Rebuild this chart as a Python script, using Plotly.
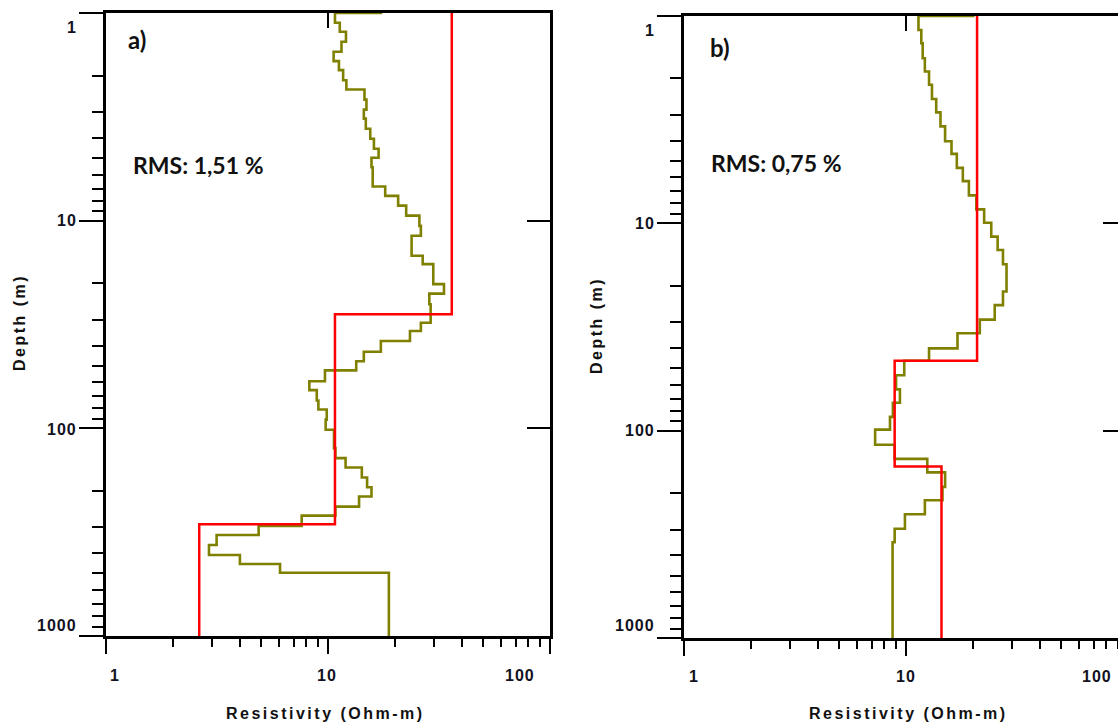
import math
import plotly.graph_objects as go

W, H = 1118, 723

# ---------------- data ----------------
# Panel a) : smooth inversion model (olive) and layered model (red)
rho_a_smooth = [17.3, 10.75, 11.3, 12.05, 11.5, 10.6, 11.2, 11.7, 12.1, 14.6, 14.9, 14.5, 14.8,
                15.5, 16.1, 16.9, 15.7, 15.9, 18.1, 20.7, 22.5, 25.8, 26.2, 23.8, 26.7, 29.8,
                33.3, 28.6, 29.0, 26.2, 23.4, 17.3, 14.5, 13.4, 9.69, 8.24, 8.9, 9.05, 9.87,
                9.76, 10.64, 10.8, 12.0, 14.2, 15.0, 15.7, 13.8, 10.8, 7.61, 4.87, 3.15, 2.91,
                4.01, 6.08, 18.8]
top_a_smooth = [0.9, 1.0, 1.114, 1.231, 1.376, 1.538, 1.705, 1.885, 2.107, 2.337, 2.612, 2.919,
                3.227, 3.606, 4.03, 4.504, 4.98, 5.53, 6.85, 7.6, 8.46, 9.46, 10.6, 11.82, 14.76,
                16.19, 20.22, 22.45, 25.26, 31.0, 34.0, 37.99, 42.8, 47.5, 52.6, 59.3, 65.5,
                73.5, 81.2, 90.8, 101.5, 124.5, 139.2, 154.3, 172.5, 192.1, 213.1, 238.2, 263.3,
                295.1, 326.2, 364.6, 407.6, 450.4, 496.3]
rho_a_layers = [36.1, 10.75, 2.63]
top_a_layers = [1.0, 28.2, 290.0]

# Panel b)
rho_b_smooth = [20.1, 11.38, 11.72, 11.89, 12.16, 12.7, 13.09, 13.68, 14.3, 15.0, 16.03, 16.94,
                18.03, 19.2, 20.74, 22.49, 24.21, 25.87, 27.34, 28.37, 27.34, 25.1, 21.5, 17.06,
                12.7, 9.82, 9.02, 9.39, 8.73, 8.47, 7.26, 8.89, 12.47, 15.0, 14.6, 12.16, 9.89,
                8.89, 8.7]
top_b_smooth = [0.9, 1.0, 1.168, 1.353, 1.598, 1.852, 2.147, 2.515, 2.915, 3.405, 4.021, 4.624,
                5.40, 6.26, 7.33, 8.56, 9.93, 11.59, 13.44, 15.74, 21.31, 24.79, 29.15, 33.9,
                40.1, 46.0, 54.0, 63.2, 73.4, 85.8, 98.9, 117.0, 136.8, 158.9, 186.6, 216.6,
                253.2, 297.4, 345.3]
rho_b_layers = [20.9, 8.89, 14.45]
top_b_layers = [1.0, 46.0, 149.0]

max_depth = 1000.0
rms_labels = ["RMS: 1,51 %", "RMS: 0,75 %"]
panel_labels = ["a)", "b)"]
x_tick_vals = [1, 10, 100]
x_tick_text = ["1", "10", "100"]
y_tick_vals = [1, 10, 100, 1000]
y_tick_text = ["1", "10", "100", "1000"]
x_title = "Resistivity (Ohm-m)"
y_title = "Depth (m)"

OLIVE = "#808000"
RED = "#ff0000"

minor_x = [m * 10 ** e for e in range(0, 2) for m in range(2, 10)]
minor_y = [m * 10 ** e for e in range(0, 3) for m in range(2, 10)]


def steps(rho, tops):
    return list(rho) + [rho[-1]], list(tops) + [max_depth]


fig = go.Figure()

panels = [
    dict(x="x", y="y", xo="x3", yo="y3", smooth=(rho_a_smooth, top_a_smooth),
         layers=(rho_a_layers, top_a_layers)),
    dict(x="x2", y="y2", xo="x4", yo="y4", smooth=(rho_b_smooth, top_b_smooth),
         layers=(rho_b_layers, top_b_layers)),
]
for p in panels:
    xs, ys = steps(*p["smooth"])
    fig.add_trace(go.Scatter(x=xs, y=ys, mode="lines", line=dict(color=OLIVE, width=2.6, shape="vh"),
                             xaxis=p["x"], yaxis=p["y"], showlegend=False, hoverinfo="skip"))
    xs, ys = steps(*p["layers"])
    fig.add_trace(go.Scatter(x=xs, y=ys, mode="lines", line=dict(color=RED, width=2.5, shape="vh"),
                             xaxis=p["xo"], yaxis=p["yo"], showlegend=False, hoverinfo="skip"))

# ---------------- axes ----------------
XA_LEFT, XB_LEFT, DECADE_X = 106, 684, 222.0
xa_dom = [XA_LEFT / W, 550 / W]
ya_dom = [(H - 636) / H, (H - 13) / H]
xb_dom = [XB_LEFT / W, 1.0]
yb_dom = [(H - 638) / H, (H - 16) / H]
xb_range = [0, (W - XB_LEFT) / DECADE_X]

common_x = dict(type="log", showgrid=False, zeroline=False, showticklabels=False)
common_y = dict(type="log", showgrid=False, zeroline=False, showticklabels=False, range=[3, 0])


def main_x(domain, rng, anchor, mirror):
    return dict(common_x, domain=domain, range=rng, anchor=anchor, showline=True,
                linecolor="black", linewidth=2.5, mirror=mirror, ticks="outside",
                tickmode="array", tickvals=x_tick_vals, ticklen=15, tickwidth=2.2, tickcolor="black",
                minor=dict(tickmode="array", tickvals=minor_x, ticks="outside", ticklen=8,
                           tickwidth=2, tickcolor="black", showgrid=False))


def main_y(domain, anchor, mirror):
    return dict(common_y, domain=domain, anchor=anchor, showline=True, linecolor="black",
                linewidth=2.5, mirror=mirror, ticks="outside", tickmode="array",
                tickvals=y_tick_vals, ticklen=24, tickwidth=2.2, tickcolor="black",
                minor=dict(tickmode="array", tickvals=minor_y, ticks="outside", ticklen=11,
                           tickwidth=2, tickcolor="black", showgrid=False))


def over_x(over, rng, anchor):
    return dict(common_x, overlaying=over, range=rng, side="top", anchor=anchor, showline=False,
                ticks="inside", tickmode="array", tickvals=x_tick_vals, ticklen=15, tickwidth=2.2,
                tickcolor="black")


def over_y(over, anchor, ticklen):
    return dict(common_y, overlaying=over, side="right", anchor=anchor, showline=False,
                ticks="inside", tickmode="array", tickvals=y_tick_vals, ticklen=ticklen,
                tickwidth=2.2, tickcolor="black")


fig.update_layout(
    xaxis=main_x(xa_dom, [0, 2], "y", True),
    yaxis=main_y(ya_dom, "x", True),
    xaxis2=main_x(xb_dom, xb_range, "y2", True),
    yaxis2=main_y(yb_dom, "x2", False),
    xaxis3=over_x("x", [0, 2], "y3"),
    yaxis3=over_y("y", "x3", 23),
    xaxis4=over_x("x2", xb_range, "y4"),
    yaxis4=over_y("y2", "x4", 15),
)

# ---------------- text ----------------
TICKFONT = dict(family="Liberation Sans, Arial", size=16, color="#111122", weight="bold")
TITLEFONT = dict(family="Liberation Sans, Arial", size=16, color="#111111", weight="bold")
LABELFONT = dict(family="Lato, Open Sans", size=23, color="#111111", weight="bold")


def spaced(t, px):
    return f'<span style="letter-spacing:{px}px">{t}</span>'


ann = []
x_shifts = [[9, -1, -30], [10, 0, -31]]
y_shifts = [[-14, 0, -1, 11], [-14, 0, 0, 13]]
axes_ids = [("x", "y"), ("x2", "y2")]
x_lefts = [XA_LEFT, XB_LEFT]
x_ranges = [[0, 2], xb_range]
x_lab_y = [(H - 675) / H, (H - 676) / H]
for i, (xa, ya) in enumerate(axes_ids):
    for j, (v, t) in enumerate(zip(x_tick_vals, x_tick_text)):
        lv = math.log10(v)
        if lv <= x_ranges[i][1] + 1e-9:
            ann.append(dict(x=lv, xref=xa, y=x_lab_y[i], yref="paper", text=spaced(t, 1),
                            showarrow=False, font=TICKFONT, xanchor="center", yanchor="middle",
                            xshift=x_shifts[i][j]))
        else:
            # tick lies just beyond the visible (cropped) panel edge: place label in page space
            px = x_lefts[i] + DECADE_X * lv + x_shifts[i][j]
            ann.append(dict(x=px / W, xref="paper", y=x_lab_y[i], yref="paper", text=spaced(t, 1),
                            showarrow=False, font=TICKFONT, xanchor="center", yanchor="middle"))
    for j, (v, t) in enumerate(zip(y_tick_vals, y_tick_text)):
        ann.append(dict(x=0, xref=xa + " domain", y=math.log10(v), yref=ya, text=spaced(t, 1),
                        showarrow=False, font=TICKFONT, xanchor="right", yanchor="middle",
                        xshift=-27, yshift=y_shifts[i][j]))

title_pos = [(325, 713, 19, 323), (908, 713, 597, 326)]
for (tx, ty, dx, dy) in title_pos:
    ann.append(dict(x=tx / W, y=(H - ty) / H, xref="paper", yref="paper", text=spaced(x_title, 2.5),
                    showarrow=False, font=TITLEFONT, xanchor="center", yanchor="middle"))
    ann.append(dict(x=dx / W, y=(H - dy) / H, xref="paper", yref="paper", text=spaced(y_title, 2.5),
                    showarrow=False, font=TITLEFONT, xanchor="center", yanchor="middle",
                    textangle=-90))

lab_pos = [(126, 39, 131, 165), (708, 48, 709, 163)]
for i, (lx, ly, rx, ry) in enumerate(lab_pos):
    ann.append(dict(x=lx / W, y=(H - ly) / H, xref="paper", yref="paper", text=panel_labels[i],
                    showarrow=False, font=dict(LABELFONT, size=24), xanchor="left", yanchor="middle"))
    ann.append(dict(x=rx / W, y=(H - ry) / H, xref="paper", yref="paper", text=rms_labels[i],
                    showarrow=False, font=LABELFONT, xanchor="left", yanchor="middle"))

fig.update_layout(
    annotations=ann,
    width=W, height=H,
    margin=dict(l=0, r=0, t=0, b=0),
    paper_bgcolor="white", plot_bgcolor="white",
    showlegend=False,
)

fig.write_html("out.html", config={"displayModeBar": False})
